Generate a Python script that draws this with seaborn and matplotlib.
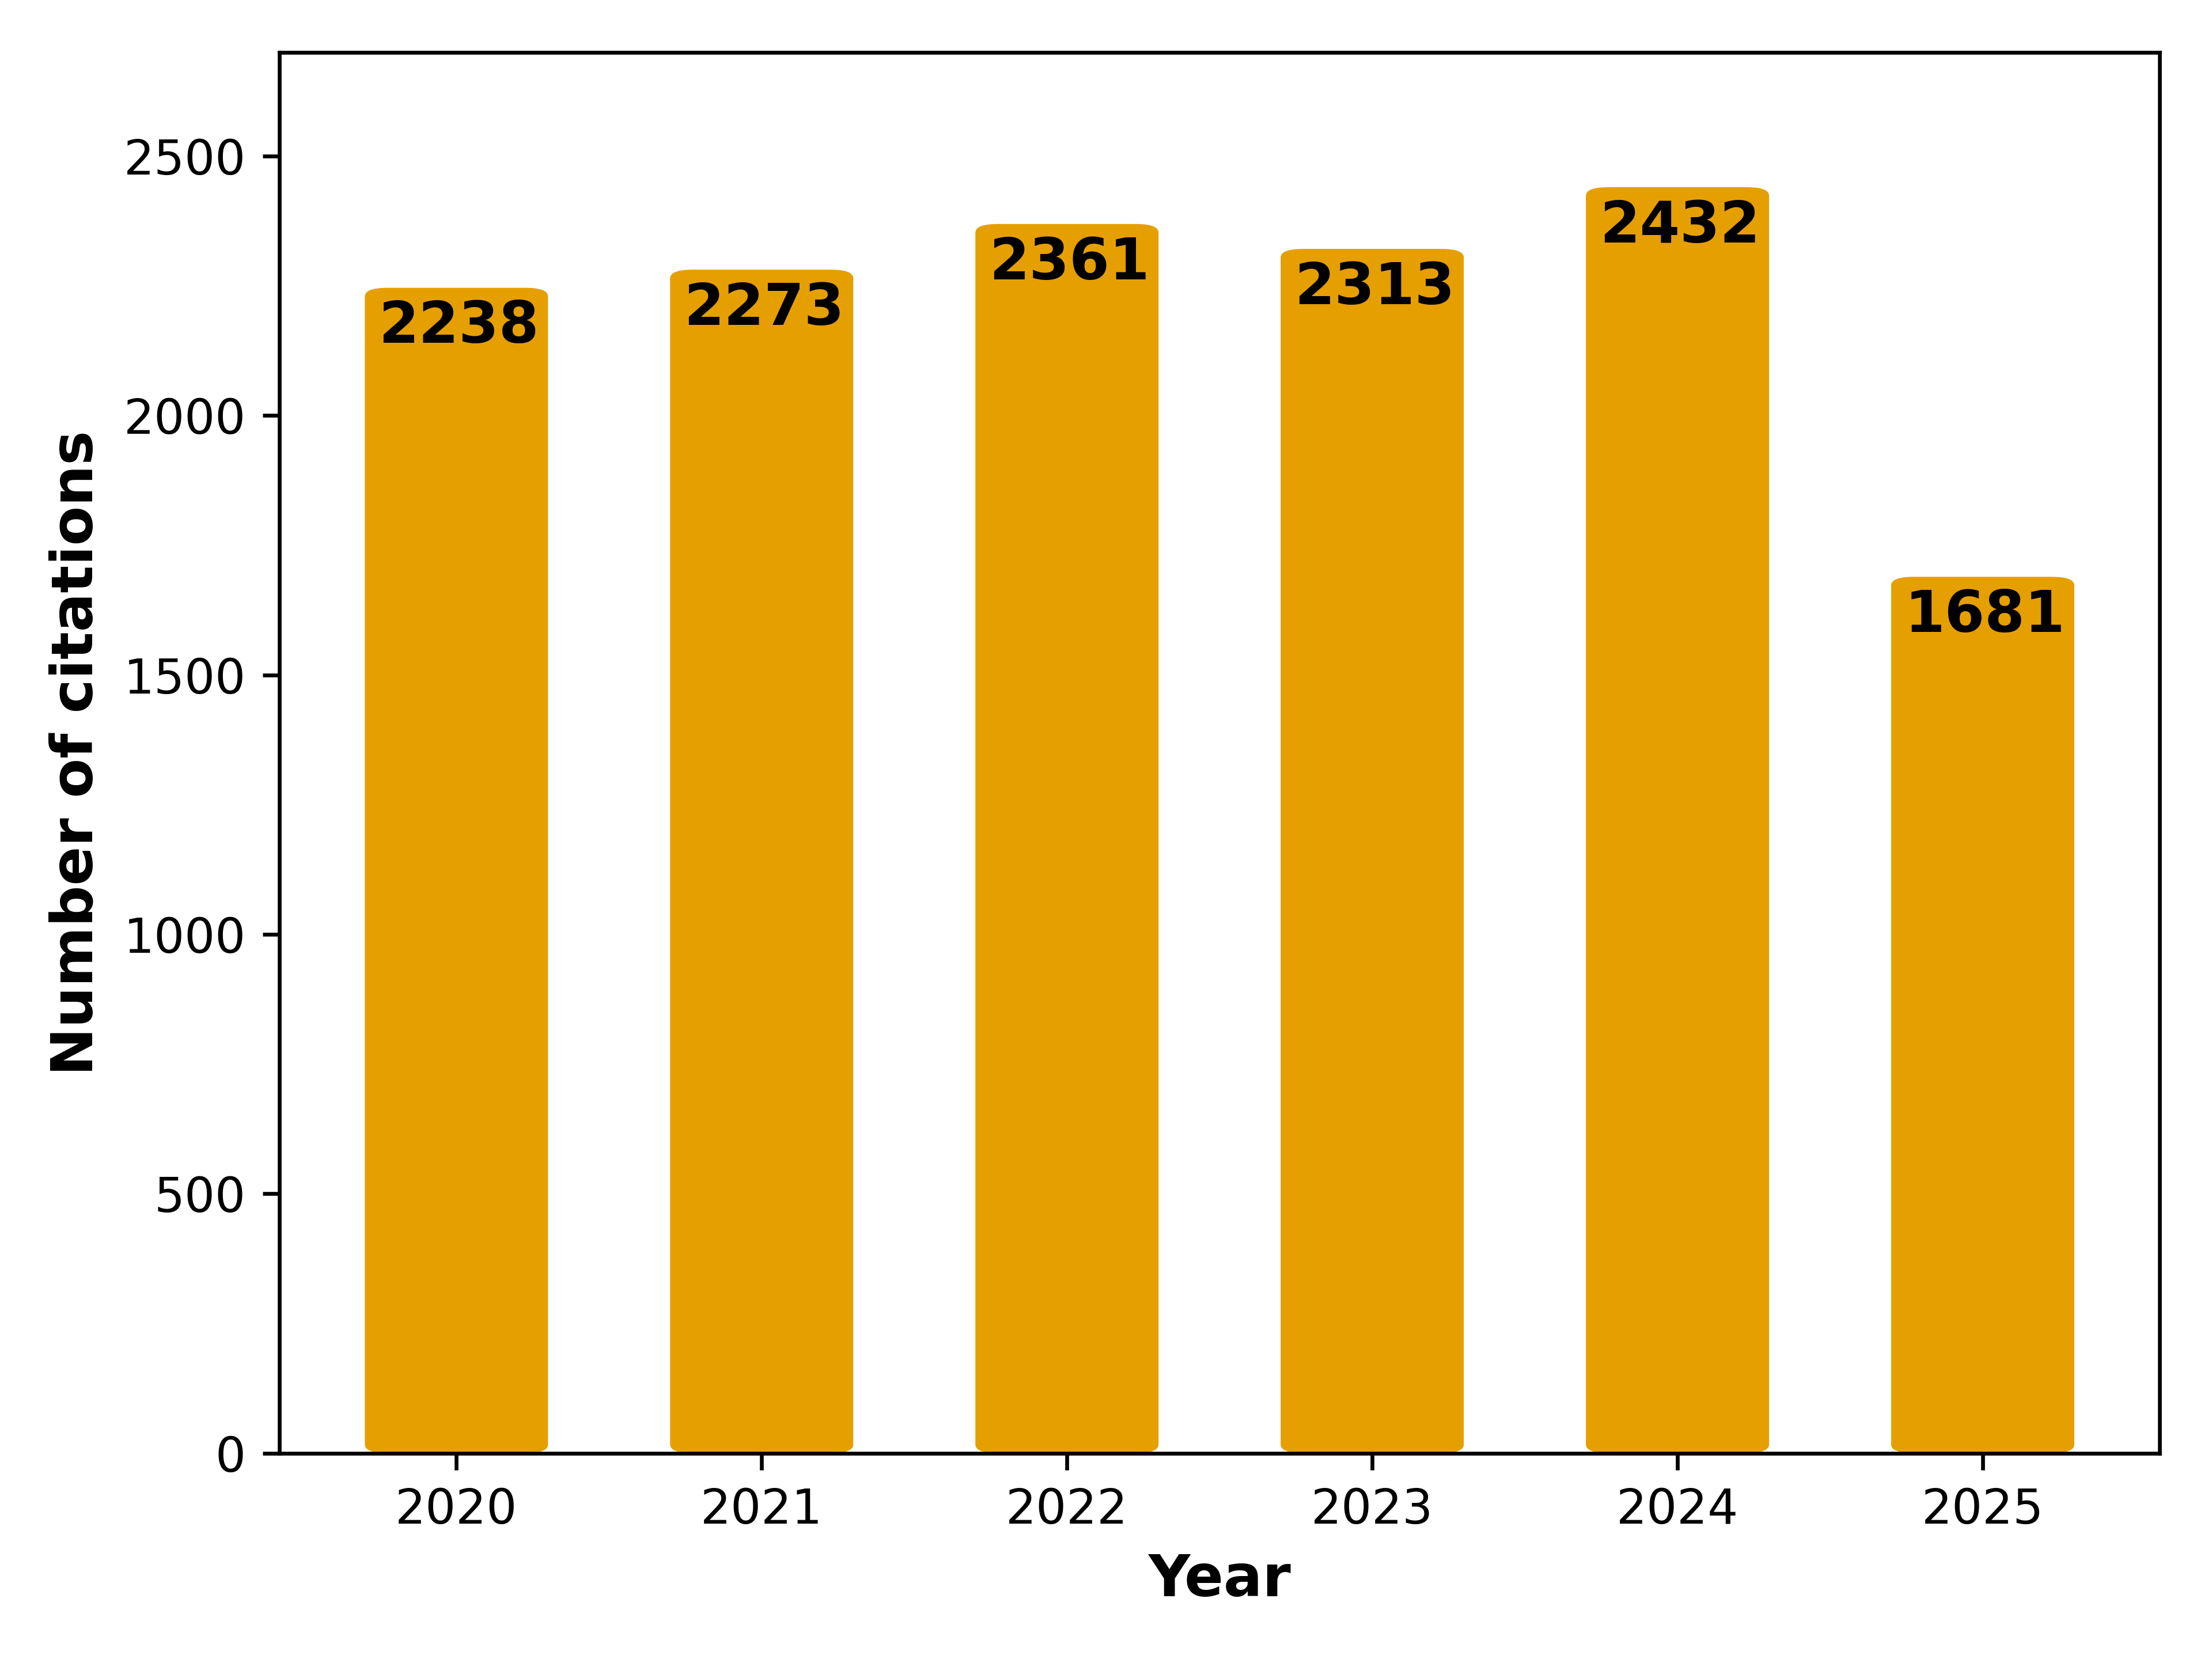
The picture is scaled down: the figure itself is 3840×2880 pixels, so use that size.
import matplotlib
matplotlib.use("Agg")
import matplotlib.pyplot as plt
import seaborn as sns
import pandas as pd
from matplotlib.patches import FancyBboxPatch

years = ["2020", "2021", "2022", "2023", "2024", "2025"]
citations = [2238, 2273, 2361, 2313, 2432, 1681]

df = pd.DataFrame({"Year": years, "Citations": citations})

plt.rcParams['font.family'] = ['DejaVu Sans']
fig, ax = plt.subplots(figsize=(6.4, 4.8), dpi=600)

sns.barplot(data=df, x="Year", y="Citations", color="#E69F00", saturation=1,
            width=0.6, ax=ax)

# replace bars with rounded ones
patches = list(ax.patches)
for p in patches:
    x0, y0 = p.get_x(), p.get_y()
    w, h = p.get_width(), p.get_height()
    fc = p.get_facecolor()
    p.remove()
    fb = FancyBboxPatch((x0, y0), w, h + 8,
                        boxstyle="round,pad=0,rounding_size=0.075",
                        mutation_aspect=220, facecolor=fc, edgecolor="none")
    ax.add_patch(fb)

for i, v in enumerate(citations):
    ax.annotate(str(v), xy=(i, v), xytext=(0.5, -1.5), textcoords="offset points",
                ha="center", va="top", fontsize=12, fontweight="bold", color="black")

ax.set_xlim(-0.58, 5.58)
ax.set_ylim(0, 2700)
ax.set_xlabel("Year", fontsize=12, fontweight="bold")
ax.set_ylabel("Number of citations", fontsize=12, fontweight="bold")
ax.tick_params(labelsize=10)

fig.subplots_adjust(left=0.1263, right=0.9764, top=0.9685, bottom=0.1241)
fig.savefig("out.png", dpi=600)
